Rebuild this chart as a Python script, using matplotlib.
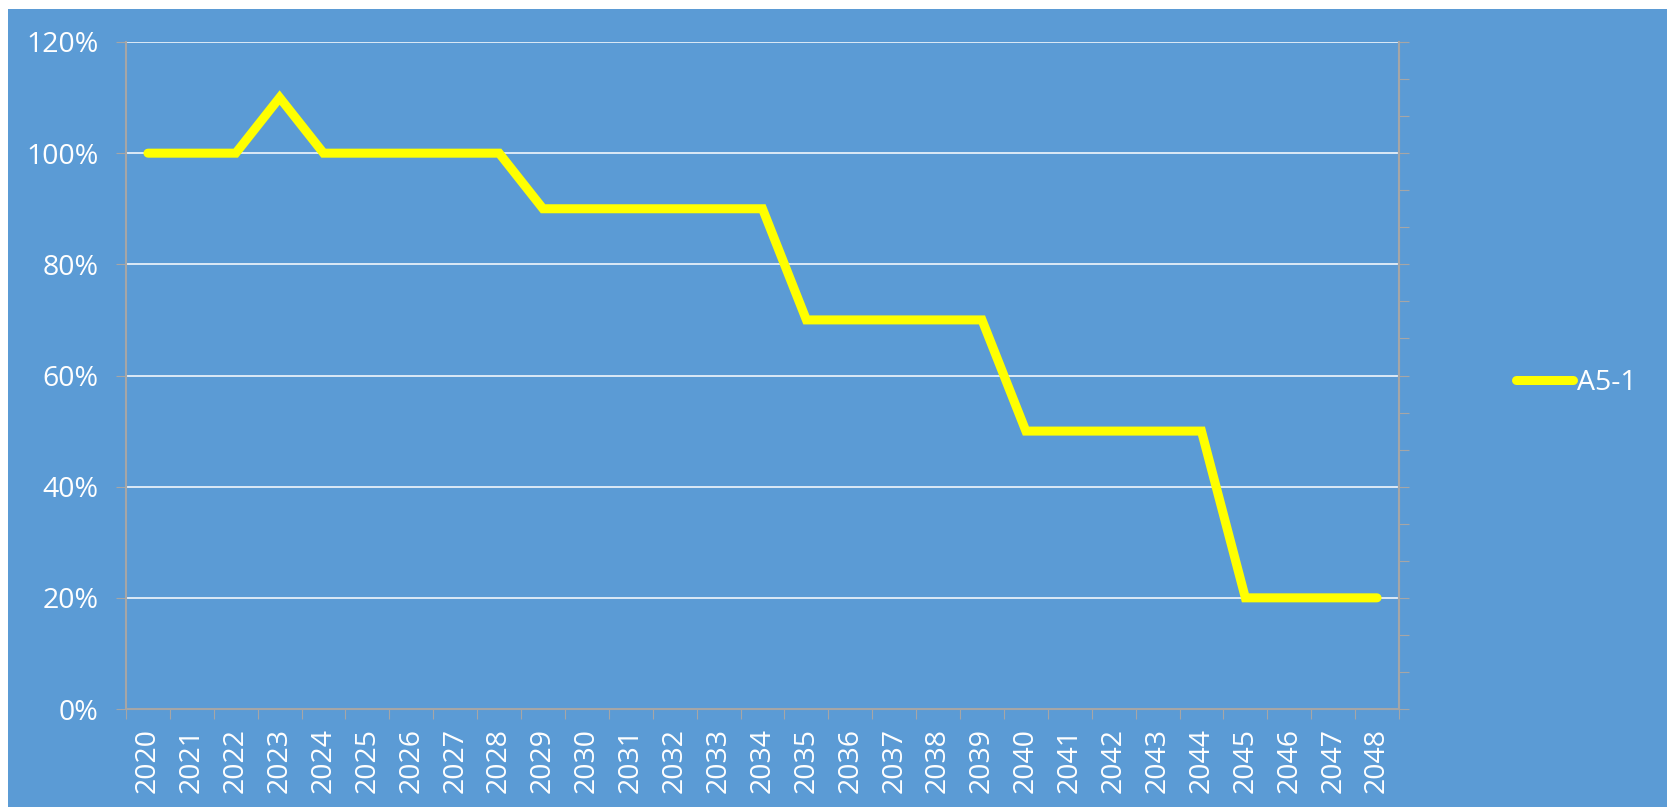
import matplotlib
matplotlib.use("Agg")
import matplotlib.pyplot as plt
from matplotlib.patches import Rectangle
from matplotlib.ticker import FixedLocator, PercentFormatter

# dados do grafico
anos = [str(a) for a in range(2020, 2049)]
valores = [100, 100, 100, 110, 100, 100, 100, 100, 100,
           90, 90, 90, 90, 90, 90,
           70, 70, 70, 70, 70,
           50, 50, 50, 50, 50,
           20, 20, 20, 20]
serie = "A5-1"

azul = "#5B9BD5"
cinza = "#A6A6A6"
W, H = 1667, 807
fs = 20.5

plt.rcParams['font.family'] = ['Open Sans', 'DejaVu Sans']

fig = plt.figure(figsize=(W / 100, H / 100), dpi=100)
fig.patch.set_facecolor("white")
# fundo azul com margem branca em cima e na esquerda
fig.add_artist(Rectangle((8 / W, 0), 1 - 8 / W, 1 - 9 / H, transform=fig.transFigure,
                         facecolor=azul, edgecolor="none", zorder=0))

left, right, top, bottom = 126, 1399, 42, 709
ax = fig.add_axes([left / W, 1 - bottom / H, (right - left) / W, (bottom - top) / H])
ax.set_facecolor(azul)

x = list(range(len(anos)))
ax.plot(x, valores, color="#FFFF00", linewidth=6.5, solid_joinstyle="miter",
        solid_capstyle="round", label=serie, zorder=3)

ax.set_xlim(-0.5, len(anos) - 0.5)
ax.set_ylim(0, 120)
ax.set_yticks(range(0, 121, 20))
ax.yaxis.set_major_formatter(PercentFormatter(decimals=0))
ax.grid(axis="y", color="white", linewidth=1.1, zorder=1)

# ticks do eixo x nas fronteiras, rotulos no centro
ax.xaxis.set_major_locator(FixedLocator([i - 0.5 for i in range(len(anos) + 1)]))
ax.xaxis.set_major_formatter(plt.NullFormatter())
ax.xaxis.set_minor_locator(FixedLocator(x))
ax.set_xticklabels(anos, minor=True, rotation=90, color="white", fontsize=fs)
ax.tick_params(axis="x", which="major", length=7, color=cinza, direction="out")
ax.tick_params(axis="x", which="minor", length=0, pad=14)
ax.tick_params(axis="y", length=7, color=cinza, pad=13, labelsize=fs, labelcolor="white")

for s in ["left", "bottom", "right"]:
    ax.spines[s].set_color(cinza)
    ax.spines[s].set_linewidth(1.5)
ax.spines["top"].set_visible(False)

# eixo secundario da direita, sem rotulos
ax2 = ax.twinx()
ax2.set_ylim(0, 18)
ax2.set_yticks(range(0, 19))
ax2.set_yticklabels([])
ax2.tick_params(axis="y", length=7, color=cinza, direction="out")
ax2.spines["right"].set_color(cinza)
ax2.spines["right"].set_linewidth(1.5)
for s in ["left", "top", "bottom"]:
    ax2.spines[s].set_visible(False)

leg = fig.legend(handles=ax.get_lines(), loc="center left",
                 bbox_to_anchor=(1516 / W, 1 - 383 / H), frameon=False,
                 borderpad=0, borderaxespad=0,
                 fontsize=fs, labelcolor="white", handlelength=2.0, handletextpad=0.15)

fig.savefig("out.png", dpi=100, facecolor=fig.get_facecolor())
